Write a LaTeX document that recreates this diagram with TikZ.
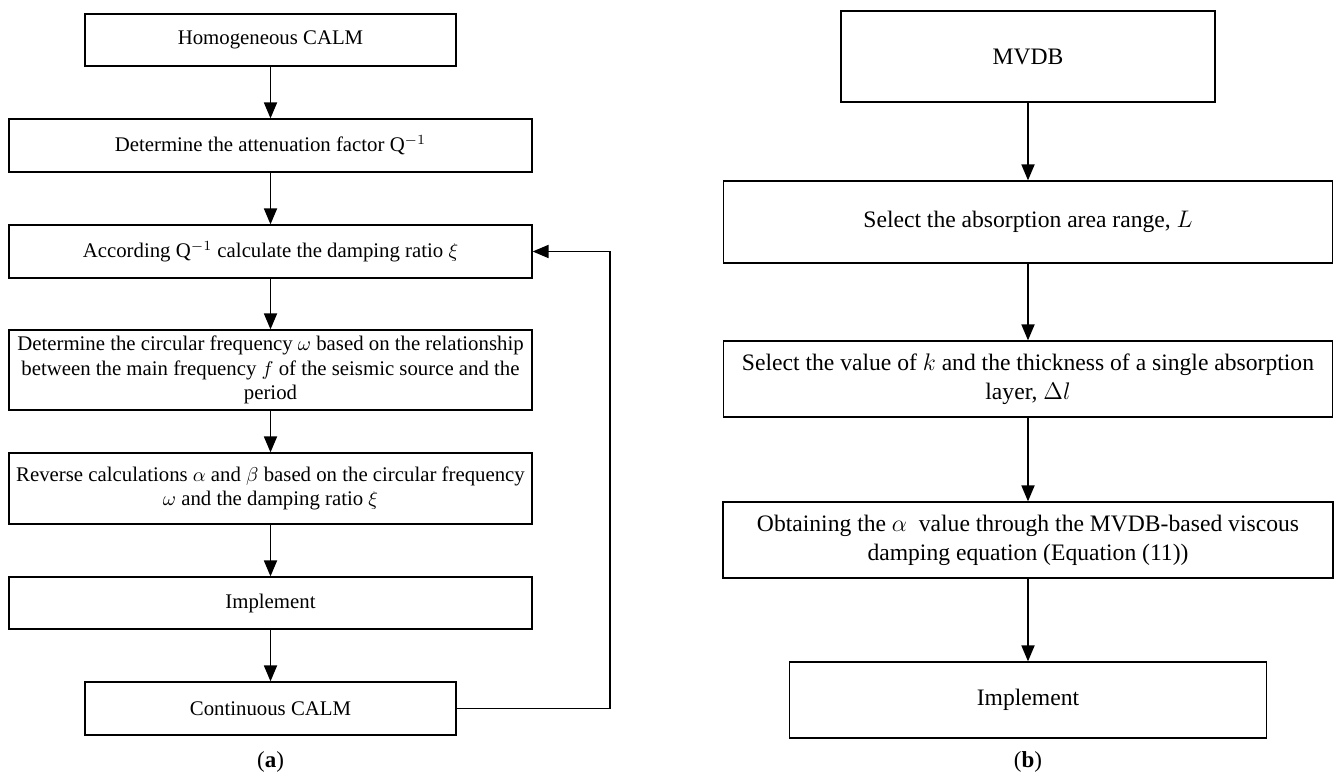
\documentclass[tikz,border=0pt]{standalone}
\usepackage{fontspec}
\setmainfont{Liberation Serif}
\usetikzlibrary{arrows.meta}

\begin{document}
\begin{tikzpicture}[x=0.5pt, y=-0.5pt,
        stage/.style={draw, line width=0.6pt, align=center, inner sep=0pt,
            font=\fontsize{10.4}{12.25}\selectfont},
        stagewide/.style={stage, font=\fontsize{11.8}{14.5}\selectfont},
        flow/.style={line width=0.9pt, -{Triangle[length=8pt, width=6.5pt]}},
        tag/.style={font=\fontsize{11.5}{13}\selectfont}]
        \useasboundingbox (0,0) rectangle (1335,780);
        % (a) homogeneous to continuous CALM
        \node[stage, minimum width=185.5pt, minimum height=26pt] (hom) at (270.5, 40) {Homogeneous CALM};
        \node[stage, minimum width=261.5pt, minimum height=26.5pt] (att) at (270.5, 145.5) {Determine the attenuation factor $\mathrm{Q}^{-1}$};
        \node[stage, minimum width=261.5pt, minimum height=26.5pt] (damp) at (270.5, 251.5) {According $\mathrm{Q}^{-1}$ calculate the damping ratio $\xi$};
        \node[stage, minimum width=261.5pt, minimum height=40pt] (circ) at (270.5, 370) {Determine the circular frequency $\omega$ based on the relationship\\ between the main frequency $f$ of the seismic source and the\\ period};
        \node[stage, minimum width=261.5pt, minimum height=35.5pt] (rev) at (270.5, 488.5) {Reverse calculations $\alpha$ and $\beta$ based on the circular frequency\\ $\omega$ and the damping ratio $\xi$};
        \node[stage, minimum width=261.5pt, minimum height=26pt] (implA) at (270.5, 603) {Implement};
        \node[stage, minimum width=185.5pt, minimum height=26.5pt] (cont) at (270.5, 708.5) {Continuous CALM};
        \coordinate (loop) at (610, 708.5);
        \draw[flow] (hom) -- (att);
        \draw[flow] (att) -- (damp);
        \draw[flow] (damp) -- (circ);
        \draw[flow] (circ) -- (rev);
        \draw[flow] (rev) -- (implA);
        \draw[flow] (implA) -- (cont);
        \draw[flow] (cont.east) -- (loop) |- (damp.east);
        \node[tag] (capA) at (270.5, 762) {(\textbf{a})};
        % (b) MVDB
        \node[stagewide, minimum width=187pt, minimum height=45.5pt] (mvdb) at (1028, 56.5) {MVDB};
        \node[stagewide, minimum width=304.5pt, minimum height=41pt] (area) at (1028, 222) {Select the absorption area range, $L$};
        \node[stagewide, minimum width=304.5pt, minimum height=38pt] (kval) at (1028, 379) {Select the value of $k$ and the thickness of a single absorption\\ layer, $\Delta l$};
        \node[stagewide, minimum width=305pt, minimum height=38pt] (obt) at (1028, 540) {Obtaining the $\alpha$~ value through the MVDB-based viscous\\ damping equation (Equation (11))};
        \node[stagewide, minimum width=238.5pt, minimum height=38pt] (implB) at (1028, 700) {Implement};
        \draw[flow] (mvdb) -- (area);
        \draw[flow] (area) -- (kval);
        \draw[flow] (kval) -- (obt);
        \draw[flow] (obt) -- (implB);
        \node[tag] (capB) at (1028, 762) {(\textbf{b})};
\end{tikzpicture}
\end{document}
